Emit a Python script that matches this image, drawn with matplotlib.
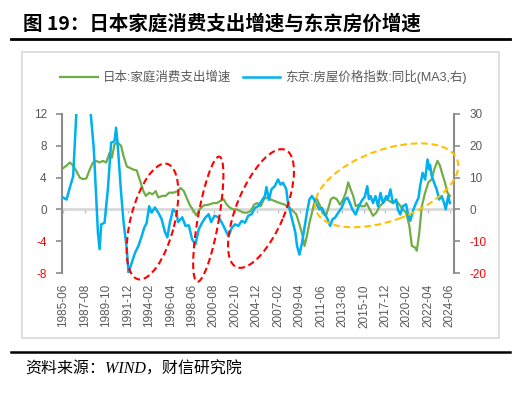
import matplotlib
matplotlib.use('Agg')
import matplotlib.pyplot as plt
from matplotlib.patches import Ellipse, Rectangle
from matplotlib.lines import Line2D

plt.rcParams['font.family'] = ['Liberation Sans', 'Noto Sans CJK SC', 'DejaVu Sans']

# ---------------- data ----------------
green_dates = ['1985-06', '1985-10', '1986-02', '1986-06', '1986-10', '1987-02', '1987-06', '1987-10',
               '1988-02', '1988-06', '1988-10', '1989-02', '1989-06', '1989-10', '1990-02', '1990-05',
               '1990-08', '1990-12', '1991-04', '1991-07', '1991-11', '1992-03', '1992-07', '1992-11',
               '1993-03', '1993-07', '1993-10', '1994-02', '1994-06', '1994-10', '1995-01', '1995-06',
               '1995-10', '1996-02', '1996-07', '1997-01', '1997-04', '1997-08', '1997-12', '1998-04',
               '1998-08', '1998-11', '1999-03', '1999-08', '2000-02', '2000-08', '2000-12', '2001-04',
               '2001-08', '2001-12', '2002-04', '2002-08', '2002-12', '2003-04', '2003-08', '2004-01',
               '2004-05', '2004-09', '2005-01', '2005-05', '2005-09', '2006-01', '2006-04', '2006-10',
               '2007-04', '2007-10', '2008-01', '2008-04', '2008-08', '2008-12', '2009-04', '2009-08',
               '2009-10', '2009-12', '2010-04', '2010-08', '2010-11', '2011-01', '2011-05', '2011-09',
               '2011-12', '2012-03', '2012-06', '2012-09', '2013-01', '2013-05', '2013-09', '2013-12',
               '2014-03', '2014-06', '2014-09', '2014-12', '2015-04', '2015-07', '2015-11', '2016-01',
               '2016-05', '2016-09', '2017-01', '2017-05', '2017-09', '2018-01', '2018-05', '2018-09',
               '2019-01', '2019-05', '2019-09', '2020-01', '2020-05', '2020-08', '2020-12', '2021-02',
               '2021-05', '2021-08', '2021-12', '2022-04', '2022-08', '2022-11', '2023-03', '2023-06',
               '2023-09', '2023-12', '2024-03', '2024-06']
green_values = [5.2, 5.5, 5.9, 5.5, 4.8, 4.0, 3.8, 3.9,
                5.0, 5.9, 6.1, 5.9, 6.1, 5.9, 7.1, 6.5,
                8.2, 8.4, 8.0, 6.7, 5.4, 5.2, 5.0, 4.9,
                3.6, 2.3, 1.7, 2.1, 1.9, 2.3, 1.5, 1.7,
                1.7, 2.1, 2.1, 2.3, 2.7, 2.3, 1.3, 0.4,
                -0.2, -0.75, 0.0, 0.5, 0.6, 0.8, 0.8, 1.05,
                1.3, 0.6, 0.2, 0.0, 0.0, -0.2, -0.4, -0.4,
                -0.2, 0.6, 0.8, 0.4, 1.3, 1.5, 1.3, 1.05,
                0.8, 0.6, 0.4, 0.2, -0.2, -0.6, -1.9, -3.4,
                -4.6, -3.8, -1.7, 0.0, 1.3, 1.3, 0.4, -0.6,
                -0.8, 0.2, 1.3, 1.5, 1.3, 0.6, 1.3, 2.1,
                3.4, 2.5, 1.7, 0.4, 0.6, 0.4, 0.4, 0.8,
                0.0, -0.8, -0.4, 0.4, 0.8, 1.3, 1.05, 0.8,
                1.05, 0.6, 0.0, -0.4, -2.1, -4.6, -4.8, -5.2,
                -2.9, 0.4, 2.1, 3.4, 3.8, 5.0, 6.1, 5.5,
                4.4, 3.4, 2.1, 1.7]

blue_dates = ['1985-06', '1985-10', '1986-02', '1986-06', '1986-10', '1987-06', '1988-03', '1988-04',
              '1988-07', '1988-10', '1988-12', '1989-02', '1989-04', '1989-08', '1989-12', '1990-04',
              '1990-08', '1990-10', '1990-12', '1991-04', '1991-07', '1991-11', '1992-01', '1992-05',
              '1992-09', '1993-01', '1993-05', '1993-08', '1993-11', '1994-02', '1994-05', '1994-09',
              '1995-01', '1995-05', '1995-09', '1995-12', '1996-03', '1996-07', '1996-11', '1997-01',
              '1997-06', '1997-10', '1998-02', '1998-06', '1998-10', '1999-02', '1999-06', '1999-10',
              '2000-02', '2000-05', '2000-09', '2001-02', '2001-06', '2001-10', '2002-02', '2002-06',
              '2002-10', '2003-02', '2003-06', '2003-10', '2004-02', '2004-06', '2004-10', '2005-02',
              '2005-06', '2005-10', '2005-12', '2006-03', '2006-06', '2006-10', '2007-02', '2007-05',
              '2007-08', '2007-12', '2008-02', '2008-05', '2008-08', '2008-11', '2009-01', '2009-04',
              '2009-07', '2009-09', '2010-01', '2010-04', '2010-07', '2010-10', '2011-01', '2011-04',
              '2011-07', '2011-11', '2012-02', '2012-05', '2012-08', '2012-11', '2013-03', '2013-07',
              '2013-11', '2014-02', '2014-05', '2014-08', '2014-12', '2015-03', '2015-07', '2015-11',
              '2016-02', '2016-04', '2016-06', '2016-09', '2016-12', '2017-03', '2017-06', '2017-09',
              '2018-01', '2018-03', '2018-06', '2018-09', '2019-01', '2019-03', '2019-06', '2019-09',
              '2020-01', '2020-03', '2020-06', '2020-10', '2021-01', '2021-04', '2021-06', '2021-09',
              '2021-12', '2022-03', '2022-05', '2022-06', '2022-08', '2022-11', '2023-02', '2023-05',
              '2023-08', '2023-11', '2024-01', '2024-04', '2024-06']
blue_values = [3.7, 3.1, 6.9, 10.4, 31.0, 40.0, 31.0, 28.0,
               19.0, 3.0, -7.3, -12.5, -4.7, -4.2, 6.3, 21.0,
               21.4, 25.7, 20.0, 5.3, -4.0, -12.6, -20.0, -16.7,
               -13.6, -11.5, -8.4, -5.8, -4.2, 1.0, -1.0, 0.6,
               -1.0, -3.0, -7.0, -8.8, -4.2, 0.0, -1.0, -4.0,
               -2.5, -5.2, -5.0, -9.4, -11.0, -6.3, -4.2, -2.6,
               -1.5, -4.0, -2.0, -2.5, -4.2, -6.3, -8.4, -5.8,
               -4.7, -5.2, -3.6, -4.2, -2.0, -1.5, 0.5, 1.0,
               2.6, 4.2, 7.0, 3.0, 6.3, 7.3, 9.4, 7.8,
               8.4, 6.3, 2.0, -1.0, -4.2, -7.3, -11.5, -14.2,
               -10.5, -7.3, -1.0, 3.1, 4.2, 3.0, 1.5, 0.0,
               0.5, -1.6, -3.1, -5.2, -3.1, -2.6, -1.0, 0.5,
               3.1, 3.7, 2.0, 0.0, -1.6, 0.5, 2.6, 4.0,
               7.3, 3.2, 4.2, 2.0, 4.2, 1.0, 5.2, 2.0,
               4.2, 3.1, 6.3, 2.0, 3.1, 0.0, -1.6, 1.0,
               1.6, -1.0, -3.6, 0.0, 2.0, 3.6, 7.3, 11.5,
               9.4, 15.7, 12.6, 14.0, 10.5, 8.4, 6.3, 3.1,
               4.2, 2.0, 0.0, 4.2, 2.0]

tick_labels = ['1985-06', '1987-08', '1989-10', '1991-12', '1994-02', '1996-04', '1998-06',
               '2000-08', '2002-10', '2004-12', '2007-02', '2009-04', '2011-06', '2013-08',
               '2015-10', '2017-12', '2020-02', '2022-04', '2024-06']

green_label = '日本:家庭消费支出增速'
blue_label = '东京:房屋价格指数:同比(MA3,右)'
title_text = '图 19：日本家庭消费支出增速与东京房价增速'
source_text = '资料来源：WIND，财信研究院'

left_ticks = [-8, -4, 0, 4, 8, 12]
right_ticks = [-20, -10, 0, 10, 20, 30]


def month_index(s):
    y, m = s.split('-')
    return (int(y) - 1985) * 12 + int(m) - 6


gx = [month_index(d) for d in green_dates]
bx = [month_index(d) for d in blue_dates]
tx = [month_index(d) for d in tick_labels]

# ---------------- figure ----------------
W, H = 523, 393
fig = plt.figure(figsize=(W / 100, H / 100), dpi=100)
fig.patch.set_facecolor('white')

GRAY = '#595959'
AXC = '#8C8C8C'
RED = '#FF0000'

# outer chart frame
fig.add_artist(Rectangle((22 / W, 1 - 338 / H), 477 / W, 286 / H, transform=fig.transFigure,
                         facecolor='none', edgecolor='#D9D9D9', lw=1.2))

ax = fig.add_axes([62 / W, 1 - 273 / H, 392 / W, 159 / H])
ax2 = ax.twinx()

ax.set_xlim(-1.5, 473)
ax.set_ylim(-8, 12)
ax2.set_ylim(-20, 30)

lg, = ax.plot(gx, green_values, color='#70AD47', lw=1.6, label=green_label, zorder=3)
lb, = ax2.plot(bx, blue_values, color='#00B0F0', lw=1.8, label=blue_label, zorder=3)

for a in (ax, ax2):
    a.patch.set_visible(False)
    for s in ('top', 'bottom'):
        a.spines[s].set_visible(False)
ax.spines['right'].set_visible(False)
ax2.spines['left'].set_visible(False)
ax.spines['left'].set_color(AXC)
ax.spines['left'].set_linewidth(1.5)
ax2.spines['right'].set_color(AXC)
ax2.spines['right'].set_linewidth(1.5)

ax.set_yticks(left_ticks)
ax.set_yticklabels([str(v) for v in left_ticks])
ax2.set_yticks(right_ticks)
ax2.set_yticklabels([str(v) for v in right_ticks])
ax.tick_params(axis='y', length=4, width=1.2, color=AXC, pad=7, labelsize=8.5, labelcolor=GRAY)
ax2.tick_params(axis='y', length=4, width=1.2, color=AXC, pad=7, labelsize=8.5, labelcolor=GRAY)
for v, t in zip(left_ticks, ax.get_yticklabels()):
    if v < 0:
        t.set_color(RED)
for v, t in zip(right_ticks, ax2.get_yticklabels()):
    if v < 0:
        t.set_color(RED)

ax.set_xticks(tx)
ax.set_xticklabels(tick_labels, rotation=90)
ax.tick_params(axis='x', length=0, pad=8, labelsize=8.5, labelcolor=GRAY)

# zero line (category axis) with small ticks
sec = ax.secondary_xaxis(0.4)
sec.set_xticks(tx)
sec.tick_params(axis='x', length=3, width=1, color='#BFBFBF', labelbottom=False, labeltop=False,
                direction='out')
for s in sec.spines.values():
    s.set_color('#D9D9D9')
    s.set_linewidth(2)

# legend
fig.legend([lg, lb], [green_label, blue_label], loc='center',
           bbox_to_anchor=(263.5 / W, 1 - 77 / H), ncol=2, frameon=False, fontsize=9,
           handlelength=3.0, handletextpad=0.4, columnspacing=0.9, labelcolor=GRAY)

# highlight ellipses (pixel positions of the annotation shapes)
tr = fig.dpi_scale_trans
ell_specs = [((152.5, 221.5), 119, 44, 75.8, RED),
             ((208.3, 219.2), 127, 21, 80.0, RED),
             ((261.0, 208.5), 127, 48, 67.4, RED),
             ((386.7, 185.3), 150, 71, 19.8, '#FFC000')]
for (cx, cy), w, h, ang, col in ell_specs:
    e = Ellipse((cx / 100, (H - cy) / 100), w / 100, h / 100, angle=ang, transform=tr,
                facecolor='none', edgecolor=col, lw=1.5, linestyle=(0, (3.2, 1.8)),
                clip_on=False, zorder=10)
    fig.add_artist(e)

# title, rules and source
fig.text(23 / W, 1 - 24 / H, title_text, fontsize=14, fontweight='bold', va='center', ha='left',
         family=['Noto Sans CJK SC', 'DejaVu Sans'], color='black')
fig.add_artist(Line2D([11 / W, 510 / W], [1 - 38.7 / H] * 2, transform=fig.transFigure,
                      color='black', lw=2.0))
fig.add_artist(Line2D([11 / W, 510 / W], [1 - 351.8 / H] * 2, transform=fig.transFigure,
                      color='black', lw=1.8))
fig.text(25 / W, 1 - 370 / H, source_text, fontsize=11.5, style='italic', va='center', ha='left',
         family=['Liberation Serif', 'Noto Sans CJK SC', 'DejaVu Sans'], color='black')

fig.savefig('out.png', dpi=100)
